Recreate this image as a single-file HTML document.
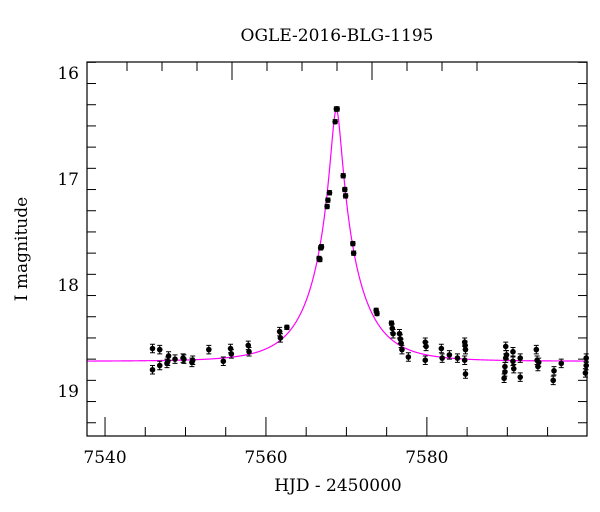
<!DOCTYPE html>
<html><head><meta charset="utf-8"><style>
html,body{margin:0;padding:0;background:#fff;}
svg{display:block;font-family:"DejaVu Serif","Liberation Serif",serif;}
</style></head><body>
<svg id="chart" width="600" height="512" viewBox="0 0 600 512" xmlns="http://www.w3.org/2000/svg">
<rect width="600" height="512" fill="#fff"/>
<text x="337" y="41" font-size="17" text-anchor="middle" fill="#000">OGLE-2016-BLG-1195</text>
<g id="ticks"></g>
<path id="model" fill="none" stroke="#ff00ff" stroke-width="1.2"/>
<g id="pts"></g>
<rect x="87" y="62" width="500" height="374" fill="none" stroke="#000" stroke-width="1.2"/>
<text x="338" y="491" font-size="17" text-anchor="middle">HJD - 2450000</text>
<text x="0" y="0" font-size="17" text-anchor="middle" transform="translate(27,249) rotate(-90)">I magnitude</text>
</svg>
<script>
const times=[7545.9,7545.9,7546.8,7546.8,7547.7,7547.8,7547.9,7548.7,7549.7,7549.8,7550.8,7550.9,7552.9,7554.7,7555.6,7555.7,7557.8,7557.9,7561.7,7561.8,7562.6,7566.6,7566.7,7566.8,7566.9,7567.6,7567.7,7567.9,7568.6,7568.75,7568.85,7569.6,7569.8,7569.9,7570.8,7570.9,7573.7,7573.8,7575.6,7575.7,7575.8,7576.6,7576.7,7576.8,7576.9,7577.7,7579.8,7579.9,7579.8,7581.8,7581.9,7582.8,7583.8,7584.7,7584.75,7584.8,7584.7,7584.8,7589.8,7589.8,7589.7,7589.6,7589.7,7589.9,7590.7,7590.7,7590.8,7591.6,7591.6,7593.6,7593.7,7593.8,7593.9,7595.8,7595.7,7596.7,7599.8,7599.7,7599.8];
const mags=[18.80,18.60,18.61,18.76,18.74,18.72,18.67,18.70,18.69,18.70,18.73,18.71,18.61,18.72,18.60,18.65,18.57,18.63,18.44,18.50,18.40,17.75,17.76,17.65,17.64,17.26,17.20,17.13,16.46,16.34,16.34,16.97,17.10,17.16,17.61,17.70,18.24,18.27,18.36,18.41,18.46,18.46,18.51,18.55,18.61,18.68,18.54,18.58,18.71,18.60,18.69,18.66,18.69,18.54,18.57,18.61,18.71,18.84,18.58,18.69,18.77,18.88,18.82,18.66,18.63,18.72,18.79,18.69,18.87,18.61,18.71,18.77,18.73,18.81,18.90,18.74,18.69,18.83,18.76];
const errs=times.map((t,i)=>Math.abs(mags[i]-18.7)<0.3?0.04:0.02);
const xTickLabels=[7540,7560,7580];
const yTickLabels=[16,17,18,19];
const model={t0:7568.75,u0:0.113,tE:5.5,base:18.72};
const X0=7537.76,X1=7599.9,Y0=15.897,Y1=19.425;
const L=87,R=587,T=62,B=436;
const sx=t=>L+(t-X0)/(X1-X0)*(R-L);
const sy=m=>T+(m-Y0)/(Y1-Y0)*(B-T);
const NS="http://www.w3.org/2000/svg";
function mk(tag,attrs,parent){const e=document.createElementNS(NS,tag);for(const k in attrs)e.setAttribute(k,attrs[k]);parent.appendChild(e);return e;}
const tk=document.getElementById('ticks');
// bottom x ticks
for(let d=7540;d<=7599;d+=5){const x=sx(d);const maj=d%20===0;
 const l=mk('line',{x1:x,x2:x,y1:B,y2:B-(maj?19:9),stroke:'#000','stroke-width':1},tk);
 
 }
xTickLabels.forEach(v=>{const t=mk('text',{x:sx(v),y:463,'font-size':17,'text-anchor':'middle'},tk);t.textContent=v;
 
 });
// top ticks (secondary scale)
for(let k=0;k<11;k++){const x=127+35*k;const maj=(k===3||k===7);
 const l=mk('line',{x1:x,x2:x,y1:T,y2:T+(maj?18:9),stroke:'#000','stroke-width':1},tk);
 
 }
// y ticks
for(let i=0;i<=17;i++){const m=15.9+0.2*i;if(m>Y1)break;const y=sy(m);const maj=Math.abs(m-Math.round(m))<0.01;
 [[L,L+(maj?18:9)],[R,R-(maj?18:9)]].forEach(p=>{const l=mk('line',{x1:p[0],x2:p[1],y1:y,y2:y,stroke:'#000','stroke-width':1},tk);
 
 });}
yTickLabels.forEach(v=>{const t=mk('text',{x:79,y:sy(v)+6,'font-size':17,'text-anchor':'end'},tk);t.textContent=v;
 
 });
// model
function modelMag(t){const tau=(t-model.t0)/model.tE;const u=Math.sqrt(tau*tau+model.u0*model.u0);const A=(u*u+2)/(u*Math.sqrt(u*u+4));return model.base-2.5*Math.log10(A);}
let d='';for(let t=X0;t<=X1;t+=0.02){d+=(d?'L':'M')+sx(t).toFixed(2)+','+sy(modelMag(t)).toFixed(2);}
document.getElementById('model').setAttribute('d',d);
// points
const pg=document.getElementById('pts');
times.forEach((t,i)=>{const x=sx(t),y=sy(mags[i]),e=sy(mags[i]+errs[i])-y;
 const g=mk('g',{},pg);
 
 
 mk('path',{d:`M${x},${y-e}V${y+e}M${x-2.5},${y-e}H${x+2.5}M${x-2.5},${y+e}H${x+2.5}`,stroke:'#000','stroke-width':1,fill:'none'},g);
 mk('circle',{cx:x,cy:y,r:2.8,fill:'#000'},g);});
</script>
</body></html>
